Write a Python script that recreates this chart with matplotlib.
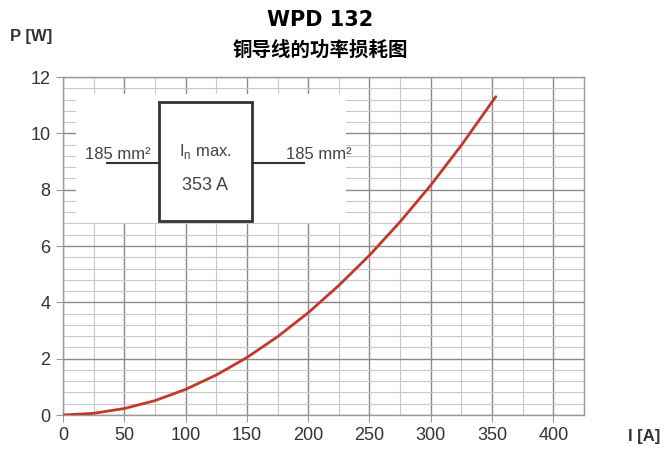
import matplotlib
matplotlib.use("Agg")
import matplotlib.pyplot as plt
from matplotlib.patches import Rectangle
from matplotlib.ticker import MultipleLocator

plt.rcParams['font.family'] = ['Liberation Sans', 'DejaVu Sans']
plt.rcParams['mathtext.fontset'] = 'custom'
plt.rcParams['mathtext.rm'] = 'Liberation Sans'

# Data
current_a = [0, 25, 50, 75, 100, 125, 150, 175, 200, 225, 250, 275, 300, 325, 353]
power_w = [0, 0.06, 0.23, 0.51, 0.91, 1.42, 2.04, 2.78, 3.63, 4.6, 5.67, 6.86, 8.16, 9.58, 11.3]
x_ticks = [0, 50, 100, 150, 200, 250, 300, 350, 400]
y_ticks = [0, 2, 4, 6, 8, 10, 12]

title_line1 = "WPD 132"
title_line2 = "铜导线的功率损耗图"
cable_left = "185 mm²"
cable_right = "185 mm²"
box_line1 = r"I$_\mathrm{n}$ max."
box_line2 = "353 A"

fig = plt.figure(figsize=(6.67, 4.5), dpi=100)
ax = fig.add_axes([63/667, 1-415/450, (584-63)/667, (415-77)/450])

ax.set_xlim(0, 425)
ax.set_ylim(0, 12)
ax.xaxis.set_major_locator(MultipleLocator(50))
ax.xaxis.set_minor_locator(MultipleLocator(25))
ax.yaxis.set_major_locator(MultipleLocator(2))
ax.yaxis.set_minor_locator(MultipleLocator(0.4))
ax.set_xticks(x_ticks)
ax.set_yticks(y_ticks)
ax.grid(which='major', color='#8a8a8a', linewidth=1.0)
ax.grid(which='minor', color='#c8c8c8', linewidth=0.8)
ax.set_axisbelow(True)
for s in ax.spines.values():
    s.set_color('#9a9a9a')
    s.set_linewidth(1.0)
ax.tick_params(which='major', length=5, color='#9a9a9a', labelsize=13, labelcolor='#333333', pad=4)
ax.tick_params(which='minor', length=0)

# White inset area covering the grid
ax.add_patch(Rectangle((11, 6.83), 220, 4.55, facecolor='white', edgecolor='none', zorder=1.5))
# Box
ax.add_patch(Rectangle((78, 6.87), 76, 4.23, facecolor='white', edgecolor='#333333', linewidth=2, zorder=3))
ax.plot([36, 78], [8.95, 8.95], color='#333333', linewidth=1.5, zorder=3)
ax.plot([154, 197], [8.95, 8.95], color='#333333', linewidth=1.5, zorder=3)
ax.text(45, 9.0, cable_left, ha='center', va='bottom', fontsize=12, color='#444444', zorder=4)
ax.text(209, 9.0, cable_right, ha='center', va='bottom', fontsize=12, color='#444444', zorder=4)
ax.text(116, 9.35, box_line1, ha='center', va='center', fontsize=12, color='#444444', zorder=4)
ax.text(116, 8.15, box_line2, ha='center', va='center', fontsize=13, color='#444444', zorder=4)

ax.plot(current_a, power_w, color='#c0392b', linewidth=2, zorder=5, solid_capstyle='round')

fig.text(320/667, 1-20/450, title_line1, ha='center', va='center', fontsize=15,
         fontweight='bold', family=['DejaVu Sans'])
fig.text(320/667, 1-50/450, title_line2, ha='center', va='center', fontsize=14,
         fontweight='bold', family=['Noto Sans CJK SC', 'DejaVu Sans'])
fig.text(10/667, 1-36/450, "P [W]", ha='left', va='center', fontsize=12, fontweight='bold', color='#333333')
fig.text(628/667, 1-437/450, "I [A]", ha='left', va='center', fontsize=12, fontweight='bold', color='#333333')

fig.savefig("out.png", dpi=100)
